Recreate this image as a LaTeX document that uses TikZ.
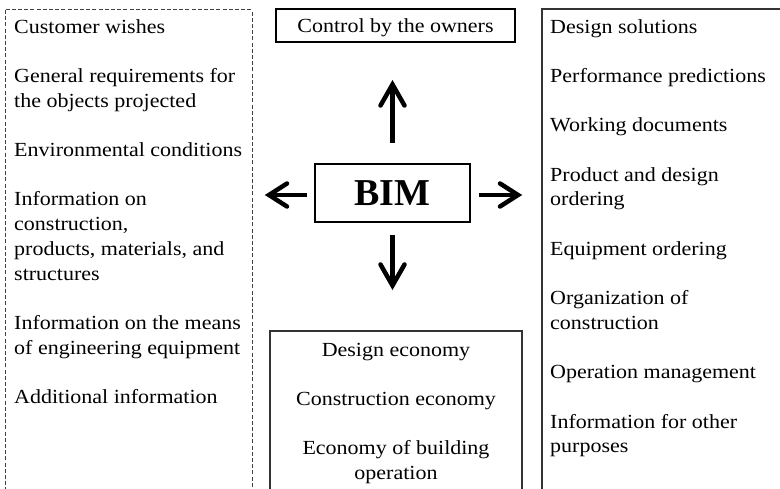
\documentclass[tikz,border=0pt]{standalone}
\usepackage{fontspec}
\setmainfont[FakeStretch=1.1]{Liberation Serif}
\newfontfamily\bimfont{Liberation Serif}
\usetikzlibrary{arrows.meta,calc}
\begin{document}
\begin{tikzpicture}[x=1pt,y=-1pt,
  txt/.style={inner sep=0pt, font=\fontsize{20}{24.7}\selectfont},
  thinbox/.style={draw=black!80, line width=1.1pt},
  thickbox/.style={draw=black, line width=2pt},
  shaft/.style={line width=4.5pt},
  head/.style={line width=4.5pt, line cap=round, line join=miter}]
\useasboundingbox (0,0) rectangle (780,489);
% boxes
\draw[draw=black!75, line width=1pt, dash pattern=on 4pt off 2.2pt] (5,10) rectangle (252,500);
\draw[thinbox] (542,9) rectangle (800,500);
\draw[thinbox] (270,331) rectangle (522,500);
\node[thickbox, minimum width=239pt, minimum height=33pt, inner sep=0pt] (ctrl) at (395.5,25.5) {};
\node[txt, anchor=base] (ctrltext) at (395.5,33) {Control by the owners};
\node[thickbox, minimum width=155pt, minimum height=58pt, inner sep=0pt] (bim) at (392.5,193) {};
\node[inner sep=0pt, font=\bimfont\bfseries\fontsize{38}{40}\selectfont, anchor=base] (bimtext) at (392.5,206) {BIM};
% texts (base anchor = baseline of last line)
\node[txt, align=left, anchor=base west] (lefttext) at (14,403.5) {Customer wishes\\[24.7pt]
General requirements for\\the objects projected\\[24.7pt]
Environmental conditions\\[24.7pt]
Information on\\construction,\\products, materials, and\\structures\\[24.7pt]
Information on the means\\of engineering equipment\\[24.7pt]
Additional information};
\node[txt, align=left, anchor=base west] (righttext) at (550,452.9) {Design solutions\\[24.7pt]
Performance predictions\\[24.7pt]
Working documents\\[24.7pt]
Product and design\\ordering\\[24.7pt]
Equipment ordering\\[24.7pt]
Organization of\\construction\\[24.7pt]
Operation management\\[24.7pt]
Information for other\\purposes};
\node[txt, align=center, anchor=base] (bottomtext) at (396,479.5) {Design economy\\[24.7pt]
Construction economy\\[24.7pt]
Economy of building\\operation};
% arrows
\coordinate (tipU) at (392.5,84.5);
\coordinate (tipD) at (392.5,285.5);
\coordinate (tipL) at (269,195);
\coordinate (tipR) at (518,195);
\draw[shaft, shorten <=20pt, shorten >=3pt] (bim.north) -- (tipU);
\draw[shaft, shorten <=12pt, shorten >=3pt] (bim.south) -- (tipD);
\draw[shaft, shorten <=7pt, shorten >=3pt] (bim.west |- tipL) -- (tipL);
\draw[shaft, shorten <=8pt, shorten >=3pt] (bim.east |- tipR) -- (tipR);
\draw[head] ($(tipU)+(-12,21)$) -- (tipU) -- ($(tipU)+(12,21)$);
\draw[head] ($(tipD)+(-12,-21)$) -- (tipD) -- ($(tipD)+(12,-21)$);
\draw[head] ($(tipL)+(18,-11.5)$) -- (tipL) -- ($(tipL)+(18,11.5)$);
\draw[head] ($(tipR)+(-18,-11.5)$) -- (tipR) -- ($(tipR)+(-18,11.5)$);
\end{tikzpicture}
\end{document}
